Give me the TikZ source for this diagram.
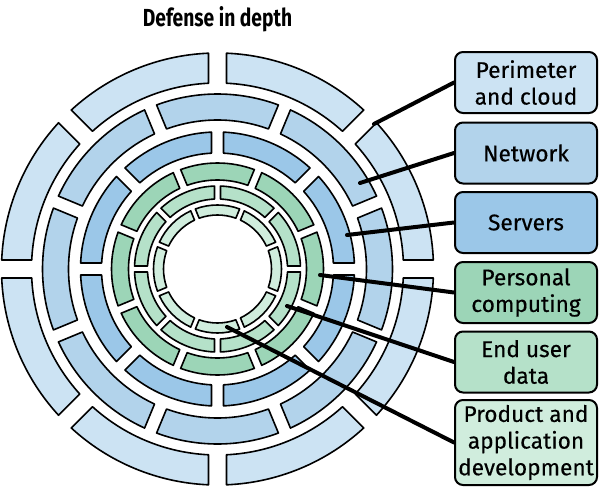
\documentclass[tikz,border=0pt]{standalone}
\usepackage{fontspec}
\setmainfont{Fira Sans}[FakeBold=0.3]
\newfontfamily\titlefont{Fira Sans}[FakeStretch=0.78]
\usetikzlibrary{positioning}
\definecolor{RingPerim}{RGB}{204,227,243}
\definecolor{RingNet}{RGB}{178,211,235}
\definecolor{RingServ}{RGB}{155,199,232}
\definecolor{RingPC}{RGB}{156,213,183}
\definecolor{RingData}{RGB}{181,225,201}
\definecolor{RingDev}{RGB}{208,237,221}
\tikzset{
  layerbox/.style={draw=black, line width=1.5pt, rounded corners=6pt, minimum width=106.5pt,
    minimum height=45.75pt, align=center, inner sep=0pt, font=\fontsize{17}{20}\selectfont},
  seg/.style={draw=black, line width=1.2pt, line join=round},
  pointer/.style={line width=3pt, line cap=round},
}

\begin{document}
\begin{tikzpicture}[x=0.75pt,y=0.75pt]
  \path[use as bounding box] (0,0) rectangle (600,487);

  % rings, outside in: inner r / outer r / gap / offset / colour
  \begin{scope}[shift={(217.5,218)}]
    \foreach \rin/\rout/\gap/\off/\col in {186/216/18/22.5/RingPerim, 149/175/13/0/RingNet,
        116/137/12/22.5/RingServ, 89/106/8/0/RingPC, 70/83/6/22.5/RingData, 54/64/5/0/RingDev}{
      \foreach \k in {0,...,7}{
        \pgfmathsetmacro\c{\off+45*\k}
        \pgfmathsetmacro\ao{\c-22.5+asin(\gap/2/\rout)}
        \pgfmathsetmacro\bo{\c+22.5-asin(\gap/2/\rout)}
        \pgfmathsetmacro\ai{\c-22.5+asin(\gap/2/\rin)}
        \pgfmathsetmacro\bi{\c+22.5-asin(\gap/2/\rin)}
        \draw[seg, fill=\col] (\ao:\rout) arc[start angle=\ao, end angle=\bo, radius=\rout]
          -- (\bi:\rin) arc[start angle=\bi, end angle=\ai, radius=\rin] -- cycle;
      }
    }
  \end{scope}

  \node[font=\titlefont\fontsize{18.5}{20}\selectfont\bfseries] (title) at (217.5,468) {Defense in depth};

  % legend boxes
  \node[layerbox, fill=RingPerim] (perim) at (526,404.5) {Perimeter\\and cloud};
  \node[layerbox, fill=RingNet] (net) at (526,334) {Network};
  \node[layerbox, fill=RingServ] (serv) at (526,264.5) {Servers};
  \node[layerbox, fill=RingPC] (pc) at (526,194.5) {Personal\\computing};
  \node[layerbox, fill=RingData] (data) at (526,125) {End user\\data};
  \node[layerbox, fill=RingDev, minimum height=63.75pt] (dev) at (526,44.5) {Product and\\application\\development};

  % where each pointer lands
  \coordinate (pPerim) at (374,363);
  \coordinate (pNet) at (360,304);
  \coordinate (pServ) at (347,252);
  \coordinate (pPC) at (320,212);
  \coordinate (pData) at (287,181);
  \coordinate (pDev) at (227,160);

  \draw[pointer] (perim.west) -- (pPerim);
  \draw[pointer] (net.west) -- (pNet);
  \draw[pointer] (serv.west) -- (pServ);
  \draw[pointer] (pc.west) -- (pPC);
  \draw[pointer] (data.west) -- (pData);
  \draw[pointer] (dev.west) -- (pDev);
\end{tikzpicture}
\end{document}
